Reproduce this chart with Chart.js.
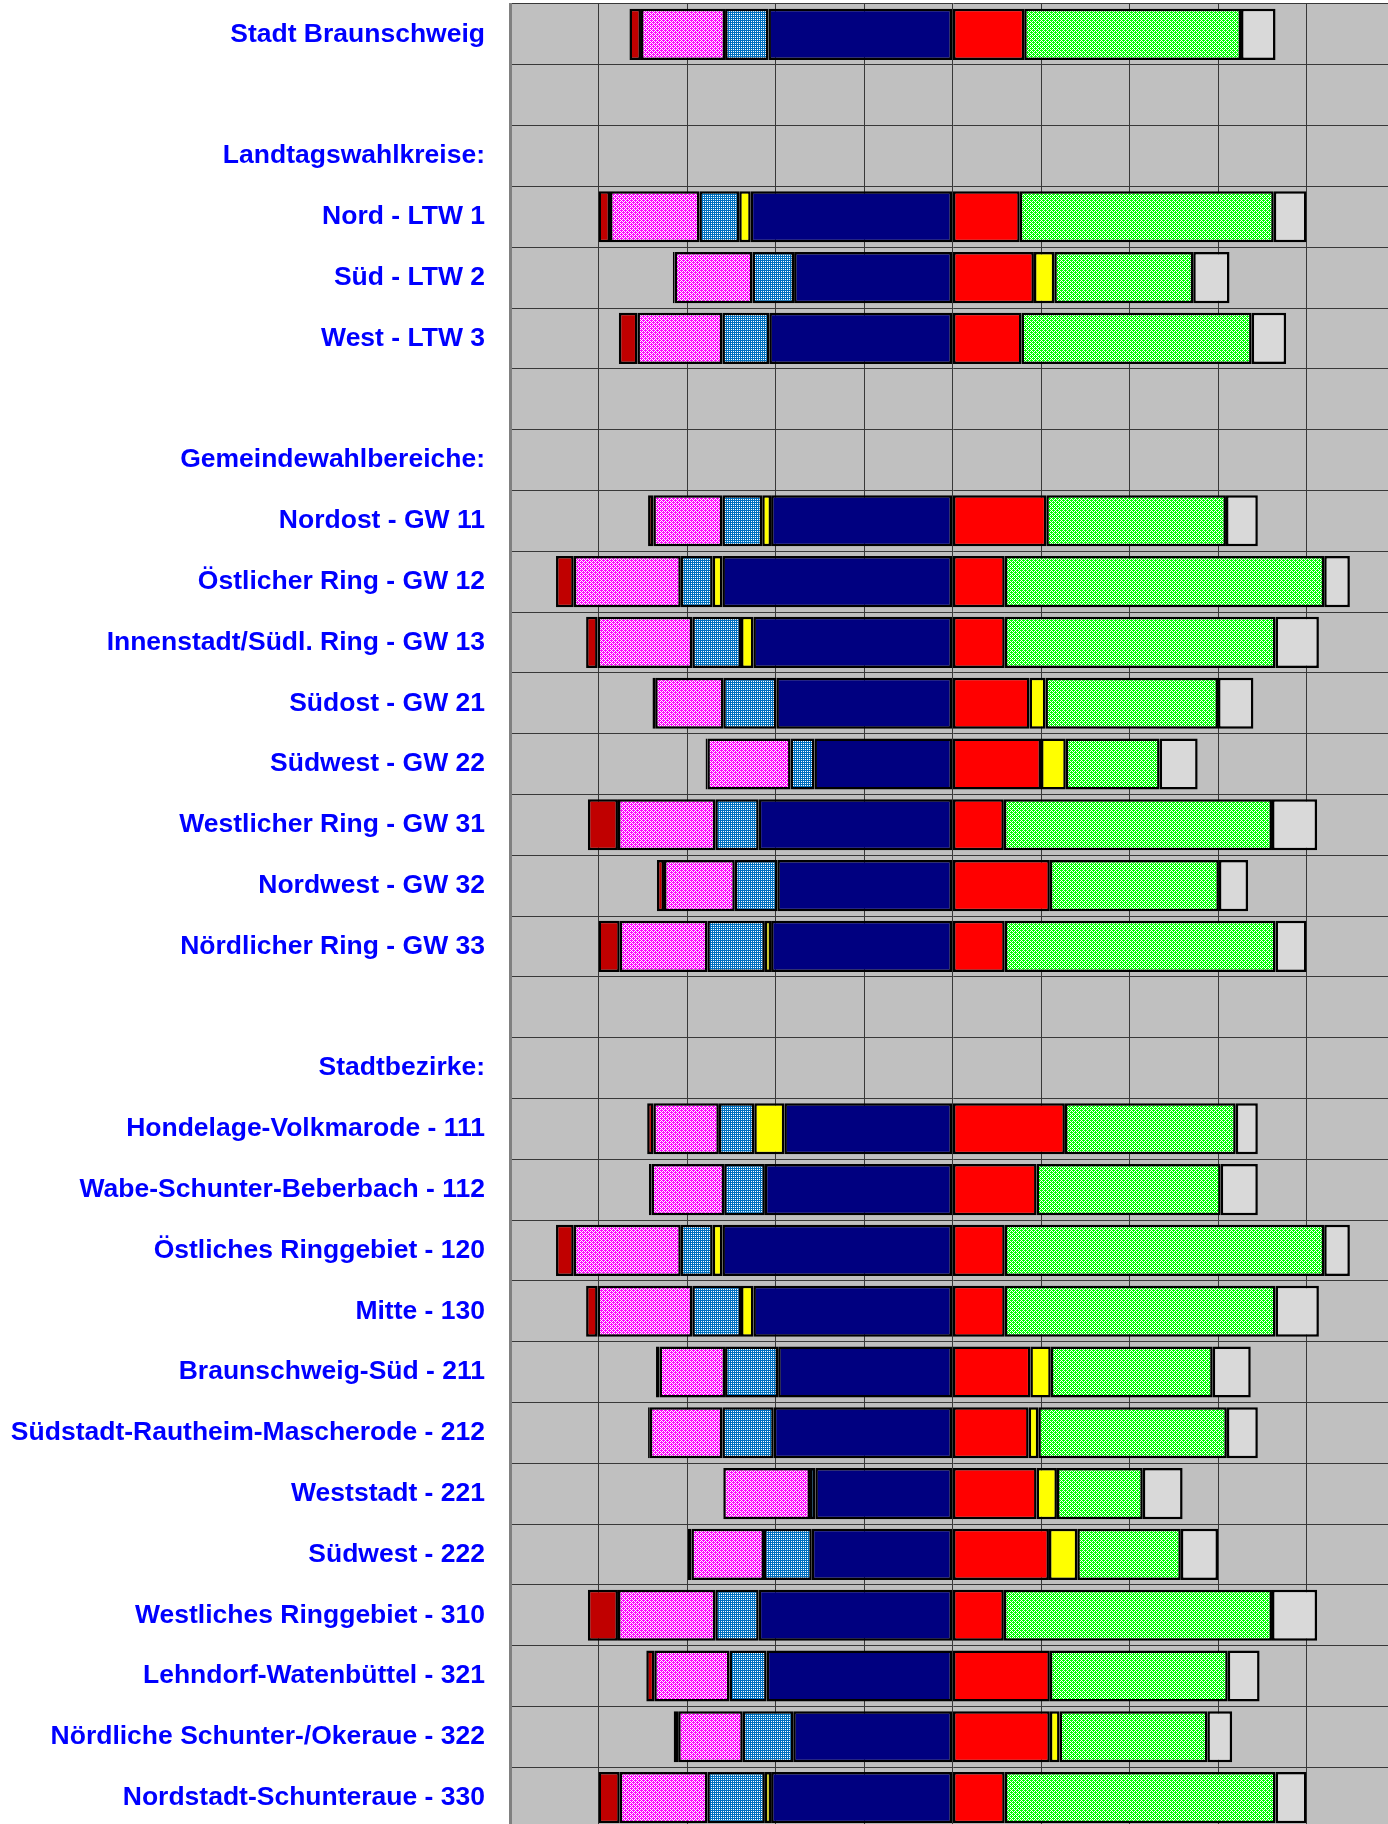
<!DOCTYPE html>
<html lang="de">
<head>
<meta charset="utf-8">
<title>Stadt Braunschweig</title>
<script src="https://cdn.jsdelivr.net/npm/chart.js@4.4.1/dist/chart.umd.min.js"></script>
<style>
  html, body { margin: 0; padding: 0; background: #fff; overflow: hidden; }
  #wrap { position: absolute; left: 0; top: 0; width: 1395px; height: 1828px; }
</style>
</head>
<body>
<div id="wrap"><canvas id="chart"></canvas></div>
<script>
// row labels, blank rows and section headings included
const labels = [
  "Stadt Braunschweig", "", "Landtagswahlkreise:",
  "Nord - LTW 1", "Süd - LTW 2", "West - LTW 3", "", "Gemeindewahlbereiche:",
  "Nordost - GW 11", "Östlicher Ring - GW 12", "Innenstadt/Südl. Ring - GW 13", "Südost - GW 21",
  "Südwest - GW 22", "Westlicher Ring - GW 31", "Nordwest - GW 32", "Nördlicher Ring - GW 33",
  "", "Stadtbezirke:",
  "Hondelage-Volkmarode - 111", "Wabe-Schunter-Beberbach - 112", "Östliches Ringgebiet - 120", "Mitte - 130",
  "Braunschweig-Süd - 211", "Südstadt-Rautheim-Mascherode - 212", "Weststadt - 221", "Südwest - 222",
  "Westliches Ringgebiet - 310", "Lehndorf-Watenbüttel - 321", "Nördliche Schunter-/Okeraue - 322", "Nordstadt-Schunteraue - 330"
];

// left side (negative), from the middle outwards
const navy    = [-20.8, null, null, -22.8, -17.9, -20.7, null, null, -20.5, -26.0, -22.5, -19.9, -15.6, -21.9, -19.8, -20.5, null, null, -19.0, -21.2, -26.0, -22.5, -19.7, -20.2, -15.5, -15.9, -21.9, -21.0, -18.0, -20.5];
const blue    = [-4.9, null, null, -4.5, -4.7, -5.3, null, null, -4.5, -3.6, -5.5, -6.0, -2.7, -4.9, -4.8, -6.5, null, null, -4.0, -4.6, -3.6, -5.5, -6.0, -5.8, -0.6, -5.4, -4.9, -4.2, -5.7, -6.5];
const pink    = [-9.5, null, null, -10.1, -8.8, -9.6, null, null, -7.8, -12.1, -10.7, -7.7, -9.4, -11.0, -8.0, -9.9, null, null, -7.4, -8.2, -12.1, -10.7, -7.4, -8.2, -9.8, -8.2, -11.0, -8.5, -7.3, -9.9];
const darkRed = [-1.3, null, null, -1.3, -0.2, -2.1, null, null, -0.6, -2.0, -1.3, -0.3, -0.2, -3.4, -0.8, -2.4, null, null, -0.7, -0.3, -2.0, -1.3, -0.4, -0.2, null, -0.4, -3.4, -0.9, -0.5, -2.4];
// yellow sits on either side
const yellow  = [null, null, null, -1.3, 2.3, null, null, null, -1.0, -1.1, -1.4, 1.8, 2.8, null, null, -0.7, null, null, -3.4, null, -1.1, -1.4, 2.3, 1.1, 2.3, 3.2, null, null, 1.1, -0.7];
// right side (positive)
const red     = [8.1, null, null, 7.6, 9.2, 7.8, null, null, 10.6, 5.9, 5.9, 8.7, 10.0, 5.8, 11.0, 5.9, null, null, 12.7, 9.5, 5.9, 5.9, 8.8, 8.6, 9.5, 10.9, 5.8, 11.0, 11.0, 5.9];
const green   = [24.5, null, null, 28.7, 15.7, 26.0, null, null, 20.3, 36.1, 30.6, 19.5, 10.6, 30.3, 19.1, 30.6, null, null, 19.3, 20.8, 36.1, 30.6, 18.3, 21.3, 9.7, 11.7, 30.3, 20.1, 16.7, 30.6];
const gray    = [3.9, null, null, 3.7, 4.1, 3.9, null, null, 3.6, 2.9, 4.9, 4.0, 4.3, 5.1, 3.3, 3.5, null, null, 2.5, 4.2, 2.9, 4.9, 4.3, 3.5, 4.5, 4.2, 5.1, 3.6, 2.8, 3.5];

// 4x4 tile of one colour with white pixels at the given spots
function dotted(color, whites) {
  const c = document.createElement("canvas");
  c.width = c.height = 4;
  const g = c.getContext("2d");
  g.fillStyle = color;
  g.fillRect(0, 0, 4, 4);
  g.fillStyle = "#ffffff";
  whites.forEach(([x, y]) => g.fillRect(x, y, 1, 1));
  return g.createPattern(c, "repeat");
}

const ctx = document.getElementById("chart").getContext("2d");
const sparse = [[0, 1], [1, 0], [2, 3], [3, 2], [0, 3], [2, 1]];
const pinkFill = dotted("#ff00ff", sparse);
const greenFill = dotted("#00ff00", sparse);
const blueFill = dotted("#0070c0", [[1, 1], [3, 3], [1, 3], [3, 1]]);

const plotBackground = {
  id: "plotBackground",
  beforeDraw(chart) {
    const a = chart.chartArea;
    const c = chart.ctx;
    c.save();
    c.fillStyle = "#c0c0c0";
    c.fillRect(a.left, a.top, a.right - a.left, a.bottom - a.top);
    c.restore();
  }
};

const bar = (data, fill) => ({
  data,
  backgroundColor: fill,
  borderColor: "#000000",
  borderWidth: 2.5,
  borderSkipped: false,
  barPercentage: 0.84,
  categoryPercentage: 1
});

new Chart(ctx, {
  type: "bar",
  data: {
    labels,
    datasets: [
      bar(navy, "#000080"),
      bar(red, "#ff0000"),
      bar(yellow, "#ffff00"),
      bar(blue, blueFill),
      bar(green, greenFill),
      bar(pink, pinkFill),
      bar(gray, "#d9d9d9"),
      bar(darkRed, "#c00000")
    ]
  },
  plugins: [plotBackground],
  options: {
    indexAxis: "y",
    responsive: true,
    maintainAspectRatio: false,
    devicePixelRatio: 1,
    animation: false,
    layout: { padding: { top: 4, left: 0, right: 0, bottom: 0 } },
    plugins: { legend: { display: false }, tooltip: { enabled: false } },
    scales: {
      x: {
        stacked: true,
        min: -50,
        max: 50,
        ticks: { display: false, stepSize: 10 },
        grid: { color: "#383838", lineWidth: 1, drawTicks: false },
        border: { display: false }
      },
      y: {
        stacked: true,
        afterFit: scale => {
          scale.width = 510;
          scale.paddingTop = 0;
          scale.paddingBottom = 0;
        },
        ticks: {
          autoSkip: false,
          padding: 25,
          color: "#0000ff",
          font: { family: "'Liberation Sans', Arial, sans-serif", size: 26.5, weight: "bold" }
        },
        grid: { color: "#383838", lineWidth: 1, drawTicks: false },
        border: { color: "#808080", width: 3 }
      }
    }
  }
});
</script>
</body>
</html>
